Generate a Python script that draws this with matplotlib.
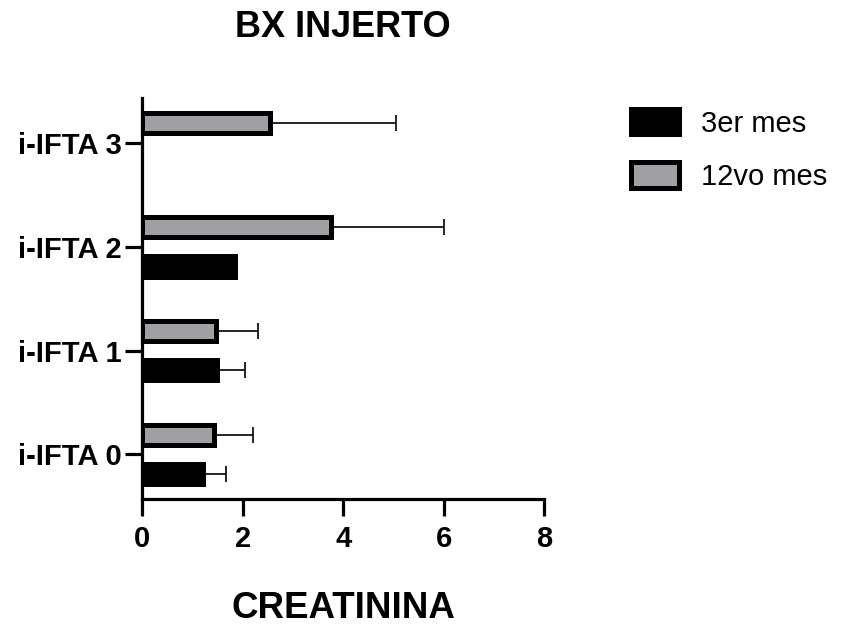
import matplotlib
matplotlib.use("Agg")
import matplotlib.pyplot as plt
import numpy as np

plt.rcParams['font.family'] = ['Liberation Sans', 'DejaVu Sans']

categories = ['i-IFTA 0', 'i-IFTA 1', 'i-IFTA 2', 'i-IFTA 3']
mes3 = [1.20, 1.48, 1.84, np.nan]
mes3_err = [0.47, 0.56, 0.0, np.nan]
mes12 = [1.43, 1.46, 3.75, 2.55]
mes12_err = [0.77, 0.84, 2.26, 2.50]
series_labels = ['3er mes', '12vo mes']
x_ticks = [0, 2, 4, 6, 8]

W, H = 846, 625
fig = plt.figure(figsize=(W / 100, H / 100), dpi=100)
ax_l, ax_r, ax_t, ax_b = 142.3, 544.3, 98.3, 499.0
ax = fig.add_axes([ax_l / W, 1 - ax_b / H, (ax_r - ax_l) / W, (ax_b - ax_t) / H])

y = np.arange(len(categories))
h = 0.195
off = 0.19
lw_edge = 3.6
gray = '#A09FA4'

b3 = ax.barh(y - off, mes3, height=h, color='black', edgecolor='black',
             linewidth=lw_edge, label=series_labels[0], zorder=2)
b12 = ax.barh(y + off, mes12, height=h, color=gray, edgecolor='black',
              linewidth=lw_edge, label=series_labels[1], zorder=2)

m3 = np.array(mes3); e3 = np.array(mes3_err)
m12 = np.array(mes12); e12 = np.array(mes12_err)
mask3 = ~np.isnan(m3) & (np.nan_to_num(e3) > 0)
ax.errorbar(m3[mask3], (y - off)[mask3],
            xerr=[np.zeros(mask3.sum()), e3[mask3]],
            fmt='none', ecolor='black', elinewidth=1.2, capsize=5.5,
            capthick=1.2, zorder=1)
ax.errorbar(m12, y + off, xerr=[np.zeros(len(m12)), e12],
            fmt='none', ecolor='black', elinewidth=1.2, capsize=5.5,
            capthick=1.2, zorder=1)

ax.set_xlim(0, 8)
ax.set_ylim(-0.43, 3.43)
ax.set_xticks(x_ticks)
ax.set_xticklabels([str(t) for t in x_ticks])
ax.set_yticks(y)
ax.set_yticklabels(categories)

for s in ['top', 'right']:
    ax.spines[s].set_visible(False)
for s in ['left', 'bottom']:
    ax.spines[s].set_linewidth(2.3)

ax.tick_params(axis='both', length=12, width=2.3, labelsize=21)
ax.tick_params(axis='x', pad=7)
ax.tick_params(axis='y', pad=3)
for lab in ax.get_xticklabels() + ax.get_yticklabels():
    lab.set_fontweight('bold')

ax_h = ax_b - ax_t
ax.set_title('BX INJERTO', fontsize=26, fontweight='bold', pad=0,
             y=(ax_b - 36.7) / ax_h, va='baseline')
ax.set_xlabel('CREATININA', fontsize=26.5, fontweight='bold')
ax.xaxis.set_label_coords(0.5, (ax_b - 618.3) / ax_h)
ax.xaxis.label.set_va('baseline')

leg = fig.legend(handles=[b3, b12], labels=series_labels,
                 loc='upper left', bbox_to_anchor=(631 / W, 1 - 109 / H),
                 frameon=False, fontsize=21, handlelength=1.64,
                 handleheight=0.96, handletextpad=0.75, labelspacing=0.85,
                 borderpad=0, borderaxespad=0)

fig.savefig('out.png', dpi=100)
